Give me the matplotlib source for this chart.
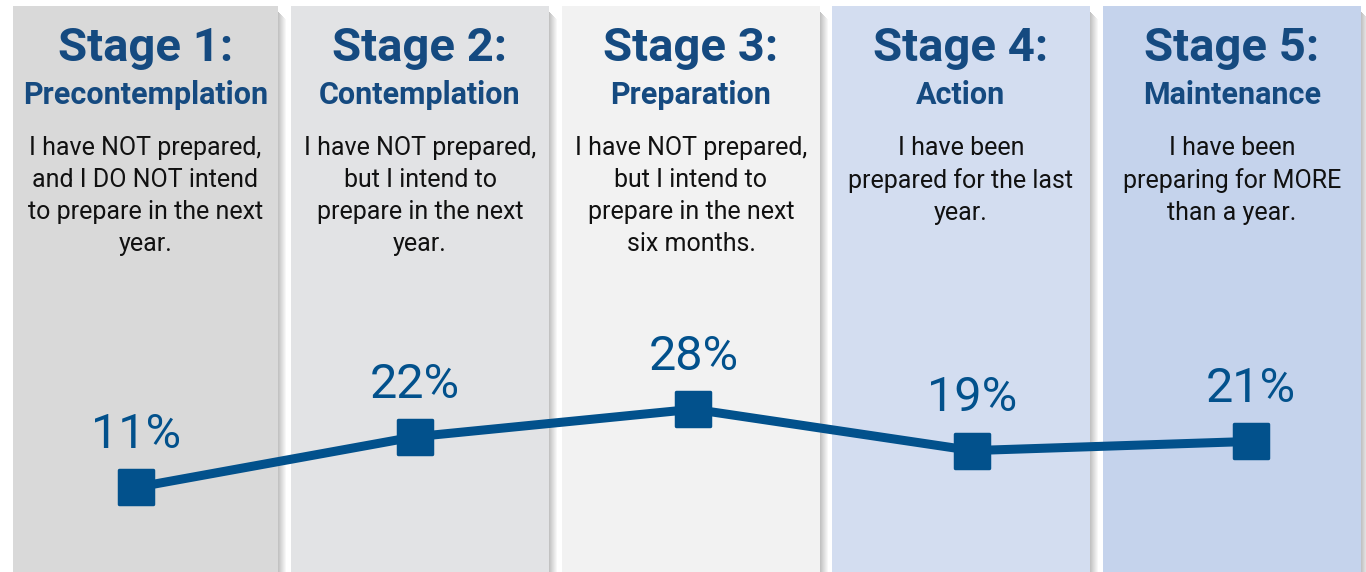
import matplotlib.pyplot as plt
from matplotlib.markers import MarkerStyle
from matplotlib.patches import Rectangle

# ---- data ----
stages = ["Stage 1:", "Stage 2:", "Stage 3:", "Stage 4:", "Stage 5:"]
names = ["Precontemplation", "Contemplation", "Preparation", "Action", "Maintenance"]
texts = [
    "I have NOT prepared,\nand I DO NOT intend\nto prepare in the next\nyear.",
    "I have NOT prepared,\nbut I intend to\nprepare in the next\nyear.",
    "I have NOT prepared,\nbut I intend to\nprepare in the next\nsix months.",
    "I have been\nprepared for the last\nyear.",
    "I have been\npreparing for MORE\nthan a year.",
]
values = [11, 22, 28, 19, 21]
panel_colors = ["#d9d9d9", "#e2e3e5", "#f2f2f2", "#d3ddf0", "#c5d3ec"]

DARK = "#154a80"
LINE = "#02518c"
plt.rcParams["font.family"] = ["Roboto", "DejaVu Sans"]

W, H = 1366, 572
fig = plt.figure(figsize=(W / 100, H / 100), dpi=100)
fig.patch.set_facecolor("white")

# panels drawn in pixel coords
bg = fig.add_axes([0, 0, 1, 1])
bg.set_xlim(0, W)
bg.set_ylim(H, 0)
bg.axis("off")

lefts = [13, 291, 562, 832, 1103]
rights = [278, 549, 820, 1090, 1361]
top = 6
for i, c in enumerate(panel_colors):
    x0, x1 = lefts[i], rights[i]
    # soft shadow, darkest next to the panel edge
    for k in range(8):
        a = 0.42 * (1 - k / 8)
        bg.add_patch(Rectangle((x1 + k, top + 6 + k), 1, H, facecolor="#6f6f6f",
                               alpha=a, edgecolor="none", lw=0, zorder=1))
    bg.add_patch(Rectangle((x0, top), x1 - x0, H, facecolor=c, edgecolor="none",
                           zorder=2))
    cx = (x0 + x1) / 2
    bg.text(cx, 48, stages[i], ha="center", va="center", fontsize=34,
            fontweight="bold", color=DARK, zorder=3)
    bg.text(cx, 95, names[i], ha="center", va="center", fontsize=22,
            fontweight="bold", color=DARK, zorder=3)
    bg.text(cx, 136, texts[i], ha="center", va="top", fontsize=18,
            color="#111111", linespacing=1.42, zorder=3)

# data axes
ax = fig.add_axes([0, 0, 1, 1])
ax.patch.set_alpha(0)
ax.axis("off")
sp = (1251 - 136) / 4
ax.set_xlim(-136 / sp, 4 + (W - 1251) / sp)
ax.set_ylim((538 - H) / 4.6, 538 / 4.6)

xs = range(len(values))
ax.plot(xs, values, color=LINE, lw=6.5, zorder=4,
        marker=MarkerStyle("s", joinstyle="round"), ms=24, mew=2.5,
        mfc=LINE, mec=LINE)
for x, v in zip(xs, values):
    ax.annotate(f"{v}%", (x, v), xytext=(0, 21), textcoords="offset points",
                ha="center", va="bottom", fontsize=35, color=LINE, zorder=5)

fig.savefig("out.png", dpi=100)
